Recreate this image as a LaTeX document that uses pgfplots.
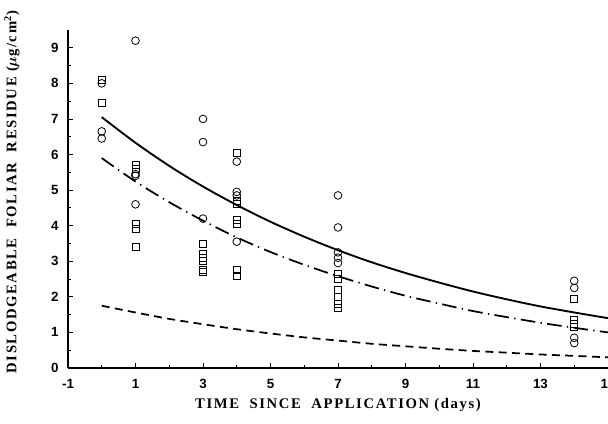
\documentclass[border=0pt]{standalone}
\usepackage{amsmath,amssymb}
\usepackage{fontspec}
\setmainfont{Liberation Serif}
\newfontfamily\ticksans{Liberation Sans}
\newfontfamily\labelserif[LetterSpace=11]{Liberation Serif}
\usepackage{pgfplots}
\pgfplotsset{compat=1.18}

\begin{document}
\begin{tikzpicture}
\begin{axis}[
  scale only axis, width=405pt, height=253.5pt,
  xmin=-1, xmax=15, ymin=0, ymax=9.5,
  axis x line=bottom, axis y line=left,
  axis line style={-, line width=0.8pt},
  xtick={-1,1,3,5,7,9,11,13,15}, minor xtick={0,2,4,6,8,10,12,14},
  ytick={0,1,2,3,4,5,6,7,8,9}, minor ytick={0.5,1.5,2.5,3.5,4.5,5.5,6.5,7.5,8.5},
  tick align=inside, major tick length=4pt, minor tick length=2.5pt,
  tick style={black, line width=0.6pt},
  /pgf/number format/assume math mode=true,
  ticklabel style={font=\ticksans\bfseries\fontsize{10}{12}\selectfont},
  xticklabel style={yshift=-5pt},
  yticklabel style={xshift=-3.5pt},
  xlabel={\labelserif\bfseries TIME\ \ SINCE\ \ APPLICATION (days)},
  ylabel={\labelserif\bfseries DISLODGEABLE\ \ FOLIAR\ \ RESIDUE ($\boldsymbol{\mu}$g/cm$^{\mathbf 2}$)},
  xlabel style={font=\fontsize{11}{13}\selectfont, at={(axis description cs:0.5,0)}, anchor=center, yshift=-28pt},
  ylabel style={font=\fontsize{11}{13}\selectfont, at={(axis description cs:0,0.52)}, anchor=center, yshift=42pt},
  clip=false,
]
\coordinate (bl) at (rel axis cs:0,0);
\coordinate (tr) at (rel axis cs:1,1);
% fitted curves
\addplot[black, line width=1.4pt, smooth] coordinates {
  (0,7.05) (1,6.33) (2,5.68) (3,5.10) (4,4.58) (5,4.11) (6,3.69) (7,3.31)
  (8,2.97) (9,2.67) (10,2.40) (11,2.15) (12,1.93) (13,1.73) (14,1.56) (15,1.40)
};
\addplot[black, line width=1.3pt, smooth, dash pattern=on 11pt off 4pt on 1pt off 4pt] coordinates {
  (0,5.90) (1,5.24) (2,4.66) (3,4.14) (4,3.67) (5,3.26) (6,2.90) (7,2.58)
  (8,2.29) (9,2.03) (10,1.81) (11,1.60) (12,1.43) (13,1.27) (14,1.13) (15,1.00)
};
\addplot[black, line width=1.3pt, smooth, dash pattern=on 6pt off 4pt] coordinates {
  (0,1.75) (1,1.56) (2,1.38) (3,1.23) (4,1.09) (5,0.97) (6,0.86) (7,0.77)
  (8,0.68) (9,0.61) (10,0.54) (11,0.48) (12,0.43) (13,0.38) (14,0.34) (15,0.30)
};
% observations
\addplot[only marks, mark=o, mark size=2.9pt, mark options={line width=0.6pt}] coordinates {
  (0,8.0) (0,6.65) (0,6.45)
  (1,9.2) (1,5.45) (1,5.4) (1,4.6)
  (3,7.0) (3,6.35) (3,4.2)
  (4,5.8) (4,4.95) (4,4.85) (4,3.55)
  (7,4.85) (7,3.95) (7,3.25) (7,3.1) (7,2.95)
  (14,2.45) (14,2.25) (14,0.85) (14,0.7)
};
\addplot[only marks, mark=square, mark size=2.6pt, mark options={line width=0.6pt}] coordinates {
  (0,8.1) (0,7.45)
  (1,5.7) (1,5.6) (1,4.05) (1,3.9) (1,3.4)
  (3,3.5) (3,3.2) (3,3.1) (3,3.0) (3,2.75) (3,2.7)
  (4,6.05) (4,4.7) (4,4.6) (4,4.15) (4,4.05) (4,2.75) (4,2.6)
  (7,2.65) (7,2.5) (7,2.2) (7,2.0) (7,1.8) (7,1.7)
  (14,1.95) (14,1.35) (14,1.25) (14,1.15)
};
\end{axis}
\pgfresetboundingbox
\path[use as bounding box] ([xshift=-51pt,yshift=-42pt]bl) rectangle ([yshift=22.5pt]tr);
\end{tikzpicture}
\end{document}
